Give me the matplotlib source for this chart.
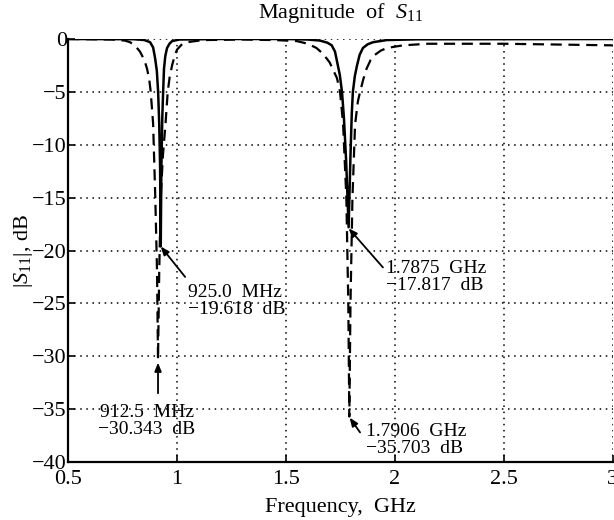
import matplotlib
matplotlib.use("Agg")
import matplotlib.pyplot as plt

plt.rcParams['font.family'] = ['Liberation Serif', 'DejaVu Serif']
plt.rcParams['mathtext.fontset'] = 'custom'
plt.rcParams['mathtext.rm'] = 'Liberation Serif'
plt.rcParams['mathtext.it'] = 'Liberation Serif:italic'

# solid trace: frequency (GHz) / |S11| (dB)
f_solid = [0.5, 0.80, 0.85, 0.876, 0.890, 0.899, 0.907, 0.913, 0.918, 0.922, 0.925,
           0.928, 0.932, 0.936, 0.940, 0.946, 0.954, 0.965, 0.977, 1.01, 1.2, 1.5,
           1.6, 1.656, 1.69, 1.71, 1.725, 1.735, 1.747, 1.757, 1.766, 1.776, 1.7875,
           1.796, 1.802, 1.807, 1.816, 1.826, 1.838, 1.853, 1.875, 1.9, 1.963, 2.1, 3.0]
db_solid = [0.0, -0.02, -0.1, -0.3, -0.8, -1.8, -3.0, -5.0, -8.0, -12.0, -19.6,
            -12.0, -7.5, -5.0, -2.8, -1.6, -0.85, -0.45, -0.2, -0.05, 0.0, 0.0,
            -0.05, -0.15, -0.35, -0.6, -1.2, -2.2, -3.4, -5.0, -7.5, -11.5, -17.8,
            -11.0, -7.0, -5.0, -3.5, -2.5, -1.5, -0.85, -0.5, -0.3, -0.1, -0.03, 0.0]

# dashed trace
f_dash = [0.5, 0.70, 0.76, 0.784, 0.81, 0.83, 0.85, 0.862, 0.872, 0.879, 0.89,
          0.900, 0.908, 0.9125, 0.918, 0.925, 0.935, 0.947, 0.957, 0.966, 0.977,
          0.99, 1.0, 1.02, 1.046, 1.12, 1.3, 1.45, 1.55, 1.60, 1.64, 1.67, 1.70,
          1.734, 1.748, 1.762, 1.777, 1.786, 1.7906, 1.796, 1.805, 1.817, 1.83,
          1.84, 1.855, 1.87, 1.888, 1.908, 1.935, 1.963, 2.037, 2.15, 2.5, 3.0]
db_dash = [0.0, -0.05, -0.15, -0.3, -0.7, -1.2, -2.0, -2.8, -3.8, -5.0, -8.0,
           -15.0, -22.0, -30.3, -22.0, -15.0, -11.0, -8.0, -5.0, -3.6, -2.5,
           -1.5, -1.0, -0.55, -0.3, -0.1, -0.05, -0.1, -0.2, -0.45, -0.85, -1.4, -2.2,
           -3.7, -5.0, -8.0, -15.0, -25.0, -35.7, -25.0, -15.0, -8.1, -5.9,
           -5.0, -3.8, -2.8, -2.0, -1.5, -1.1, -0.85, -0.6, -0.45, -0.45, -0.6]

x_ticks = [0.5, 1, 1.5, 2, 2.5, 3]
x_labels = ['0.5', '1', '1.5', '2', '2.5', '3']
y_ticks = [0, -5, -10, -15, -20, -25, -30, -35, -40]

fig = plt.figure(figsize=(6.14, 5.2), dpi=100)
ax = fig.add_axes([0.111, 0.1115, 0.887, 0.8135])

ax.plot(f_solid, db_solid, color='k', lw=1.8)
ax.plot(f_dash, db_dash, color='k', lw=1.6, linestyle=(0, (5, 3)))

ax.set_xlim(0.5, 3)
ax.set_ylim(-40, 0)
ax.set_xticks(x_ticks)
ax.set_xticklabels(x_labels)
ax.set_yticks(y_ticks)
ax.grid(True, color='k', linestyle=(0, (1, 3)), lw=1.1)
for s in ['top', 'right']:
    ax.spines[s].set_visible(False)
for s in ['left', 'bottom']:
    ax.spines[s].set_linewidth(1.6)
ax.tick_params(direction='in', length=5, width=1.2, labelsize=16, pad=1)
ax.tick_params(axis='x', pad=6)

ax.set_title('Magnitude  of  $S_{11}$', fontsize=16, pad=15)
ax.set_xlabel('Frequency,  GHz', fontsize=16, labelpad=6)
ax.set_ylabel('$|S_{11}|$, dB', fontsize=16, labelpad=-2)

# markers with arrows
arr = dict(arrowstyle='-|>,head_length=0.5,head_width=0.2', color='k', lw=1.3,
           shrinkA=0, shrinkB=0)
ax.annotate('', xy=(0.925, -19.618), xytext=(1.037, -22.5), arrowprops=arr)
ax.text(1.05, -23.2, '925.0  MHz\n\u221219.618  dB', fontsize=14, va='top',
        linespacing=1.0)

ax.annotate('', xy=(0.9125, -30.6), xytext=(0.9125, -33.5), arrowprops=arr)
ax.text(0.86, -34.5, '912.5  MHz\n\u221230.343  dB', fontsize=14, va='top',
        ha='center', linespacing=1.0)

ax.annotate('', xy=(1.7875, -17.9), xytext=(1.945, -21.6), arrowprops=arr)
ax.text(1.96, -20.9, '1.7875  GHz\n\u221217.817  dB', fontsize=14, va='top',
        linespacing=1.0)

ax.annotate('', xy=(1.792, -35.8), xytext=(1.84, -37.2), arrowprops=arr)
ax.text(1.867, -36.3, '1.7906  GHz\n\u221235.703  dB', fontsize=14, va='top',
        linespacing=1.0)

fig.savefig('out.png', dpi=100)
